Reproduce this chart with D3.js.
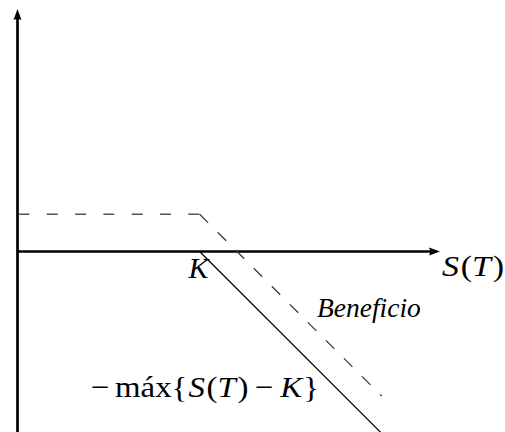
<!DOCTYPE html>
<html>
<head>
<meta charset="utf-8">
<script src="https://cdn.jsdelivr.net/npm/d3@7"></script>
<style>
  html, body { margin: 0; padding: 0; background: #fff; }
  svg { display: block; }
</style>
</head>
<body>
<script>
// Short call: payoff and profit diagrams (S = underlying price at expiry)
const axisDomainS = [0, 23.2];       // horizontal extent of the S(T) axis
const axisDomainV = [-10.2, 13.33];  // vertical extent of the value axis
const strike = [10];                 // K
const payoffS = [10, 20.2];          // payoff: -max{S(T) - K}
const payoffV = [0, -10.2];
const profitFlatS = [0, 10];         // profit (premium kept) up to K
const profitFlatV = [2.05, 2.05];
const profitSlopeS = [10, 20];       // profit falls beyond K
const profitSlopeV = [2.05, -7.95];
const labels = { strike: "K", profit: "Beneficio" };

const SERIF = "'Liberation Serif', 'Times New Roman', Times, 'DejaVu Serif', serif";
const W = 505, H = 432;
const svg = d3.select("body").append("svg").attr("width", W).attr("height", H)
  .style("font-family", SERIF);

const x = d3.scaleLinear().domain([0, axisDomainS[1]]).range([17.5, 440]);
const y = d3.scaleLinear().domain([0, axisDomainV[1]]).range([251.5, 9]);

const line = d3.line().x(d => x(d[0])).y(d => y(d[1]));
const zip = (a, b) => a.map((v, i) => [v, b[i]]);

// axes
svg.append("line")
  .attr("x1", x(0)).attr("x2", x(0))
  .attr("y1", y(axisDomainV[0])).attr("y2", y(axisDomainV[1]) + 8)
  .attr("stroke", "#000").attr("stroke-width", 2.7);
svg.append("line")
  .attr("x1", x(0)).attr("x2", x(axisDomainS[1]) - 8)
  .attr("y1", y(0)).attr("y2", y(0))
  .attr("stroke", "#000").attr("stroke-width", 2.7);

// arrow heads
const tipY = [x(0), y(axisDomainV[1])];
svg.append("path")
  .attr("d", `M${tipY[0]},${tipY[1]} L${tipY[0] + 4},${tipY[1] + 11} Q${tipY[0]},${tipY[1] + 9} ${tipY[0] - 4},${tipY[1] + 11} Z`)
  .attr("fill", "#000");
const tipX = [x(axisDomainS[1]), y(0)];
svg.append("path")
  .attr("d", `M${tipX[0]},${tipX[1]} L${tipX[0] - 11},${tipX[1] - 4} Q${tipX[0] - 9},${tipX[1]} ${tipX[0] - 11},${tipX[1] + 4} Z`)
  .attr("fill", "#000");

// profit line (dashed)
svg.append("path")
  .attr("d", line(zip(profitFlatS, profitFlatV)))
  .attr("fill", "none").attr("stroke", "#555").attr("stroke-width", 1.4)
  .attr("stroke-dasharray", "11,17.3").attr("stroke-dashoffset", -1);
svg.append("path")
  .attr("d", line(zip(profitSlopeS, profitSlopeV)))
  .attr("fill", "none").attr("stroke", "#333").attr("stroke-width", 1.2)
  .attr("stroke-dasharray", "12,13.5");

// payoff line (solid)
svg.append("path")
  .attr("d", line(zip(payoffS, payoffV)))
  .attr("fill", "none").attr("stroke", "#000").attr("stroke-width", 1.2);

// labels
svg.append("text")
  .attr("x", x(strike[0]) - 11).attr("y", 278)
  .attr("font-size", 30).attr("font-style", "italic")
  .text(labels.strike);

// a run of math glyphs, widened horizontally to span a given width
function mathText(parts, x0, baseline, size, width) {
  const g = svg.append("g");
  const t = g.append("text").attr("x", 0).attr("y", 0).attr("font-size", size);
  parts.forEach(p => {
    t.append("tspan")
      .attr("dx", p.dx || 0)
      .attr("font-style", p.it ? "italic" : "normal")
      .text(p.s);
  });
  const bb = t.node().getBBox();
  const sx = width / bb.width;
  g.attr("transform", `translate(${x0},${baseline}) scale(${sx},1)`);
  return g;
}

mathText([
  { s: "S", it: true },
  { s: "(", dx: 1.5 },
  { s: "T", it: true },
  { s: ")", dx: 1.5 }
], 442, 276, 30, 62);

svg.append("text")
  .attr("x", 317).attr("y", 317)
  .attr("font-size", 27.5).attr("font-style", "italic")
  .text(labels.profit);

mathText([
  { s: "\u2212" },
  { s: "máx", dx: 5 },
  { s: "{" },
  { s: "S", it: true, dx: 1 },
  { s: "(", dx: 1.5 },
  { s: "T", it: true },
  { s: ")", dx: 1.5 },
  { s: "\u2212", dx: 6 },
  { s: "K", it: true, dx: 6 },
  { s: "}", dx: 1 }
], 91, 397, 30, 228);
</script>
</body>
</html>
